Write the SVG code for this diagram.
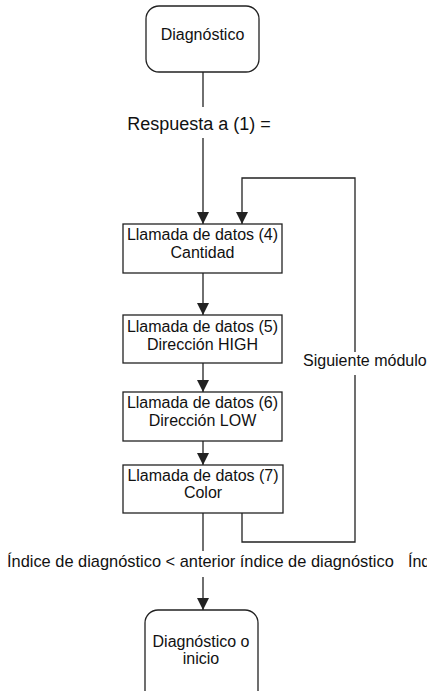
<svg xmlns="http://www.w3.org/2000/svg" width="427" height="691" viewBox="0 0 427 691">
<style>
.n{fill:#fff;stroke:#222;stroke-width:1.3}
.c{fill:none;stroke:#222;stroke-width:1.3}
text{font-family:"Liberation Sans",Arial,sans-serif;font-size:16px;fill:#111}
.m{text-anchor:middle}
</style>
<defs>
<marker id="ah" markerWidth="12" markerHeight="12" viewBox="0 0 12 12" refX="12" refY="6" orient="auto" markerUnits="userSpaceOnUse">
<path d="M0,0 L12,6 L0,12 Z" fill="#222"/>
</marker>
</defs>
<g id="connectors">
<line class="c" x1="203" y1="72" x2="203" y2="107"/>
<line class="c" x1="203" y1="138" x2="203" y2="224" marker-end="url(#ah)"/>
<polyline class="c" points="242,513 242,542 355,542 355,375"/>
<polyline class="c" points="355,352 355,178 242,178 242,224" marker-end="url(#ah)"/>
<line class="c" x1="203" y1="273" x2="203" y2="315" marker-end="url(#ah)"/>
<line class="c" x1="203" y1="363" x2="203" y2="392" marker-end="url(#ah)"/>
<line class="c" x1="203" y1="441" x2="203" y2="465" marker-end="url(#ah)"/>
<line class="c" x1="203" y1="513" x2="203" y2="551"/>
<line class="c" x1="203" y1="577" x2="203" y2="610" marker-end="url(#ah)"/>
<text x="199" y="130" class="m" style="font-size:18px">Respuesta a (1) =</text>
<text x="303" y="366">Siguiente módulo</text>
<text x="7" y="567" style="font-size:16.4px">Índice de diagnóstico &lt; anterior índice de diagnóstico</text>
<text x="408" y="567">Índ</text>
</g>
<g id="start">
<rect class="n" x="146" y="6" width="113" height="66" rx="13"/>
<text x="202.5" y="40" class="m">Diagnóstico</text>
</g>
<g id="call4">
<rect class="n" x="123" y="224" width="159" height="49"/>
<text x="202.5" y="240" class="m">Llamada de datos (4)</text>
<text x="202.5" y="258" class="m">Cantidad</text>
</g>
<g id="call5">
<rect class="n" x="123" y="315" width="159" height="48"/>
<text x="202.5" y="332" class="m">Llamada de datos (5)</text>
<text x="202.5" y="350" class="m">Dirección HIGH</text>
</g>
<g id="call6">
<rect class="n" x="123" y="392" width="159" height="49"/>
<text x="202.5" y="408" class="m">Llamada de datos (6)</text>
<text x="202.5" y="426" class="m">Dirección LOW</text>
</g>
<g id="call7">
<rect class="n" x="123" y="465" width="160" height="48"/>
<text x="203" y="481" class="m">Llamada de datos (7)</text>
<text x="203" y="498" class="m">Color</text>
</g>
<g id="end">
<rect class="n" x="145" y="610" width="113" height="100" rx="13"/>
<text x="201" y="647" class="m">Diagnóstico o</text>
<text x="201" y="664" class="m">inicio</text>
</g>
</svg>
